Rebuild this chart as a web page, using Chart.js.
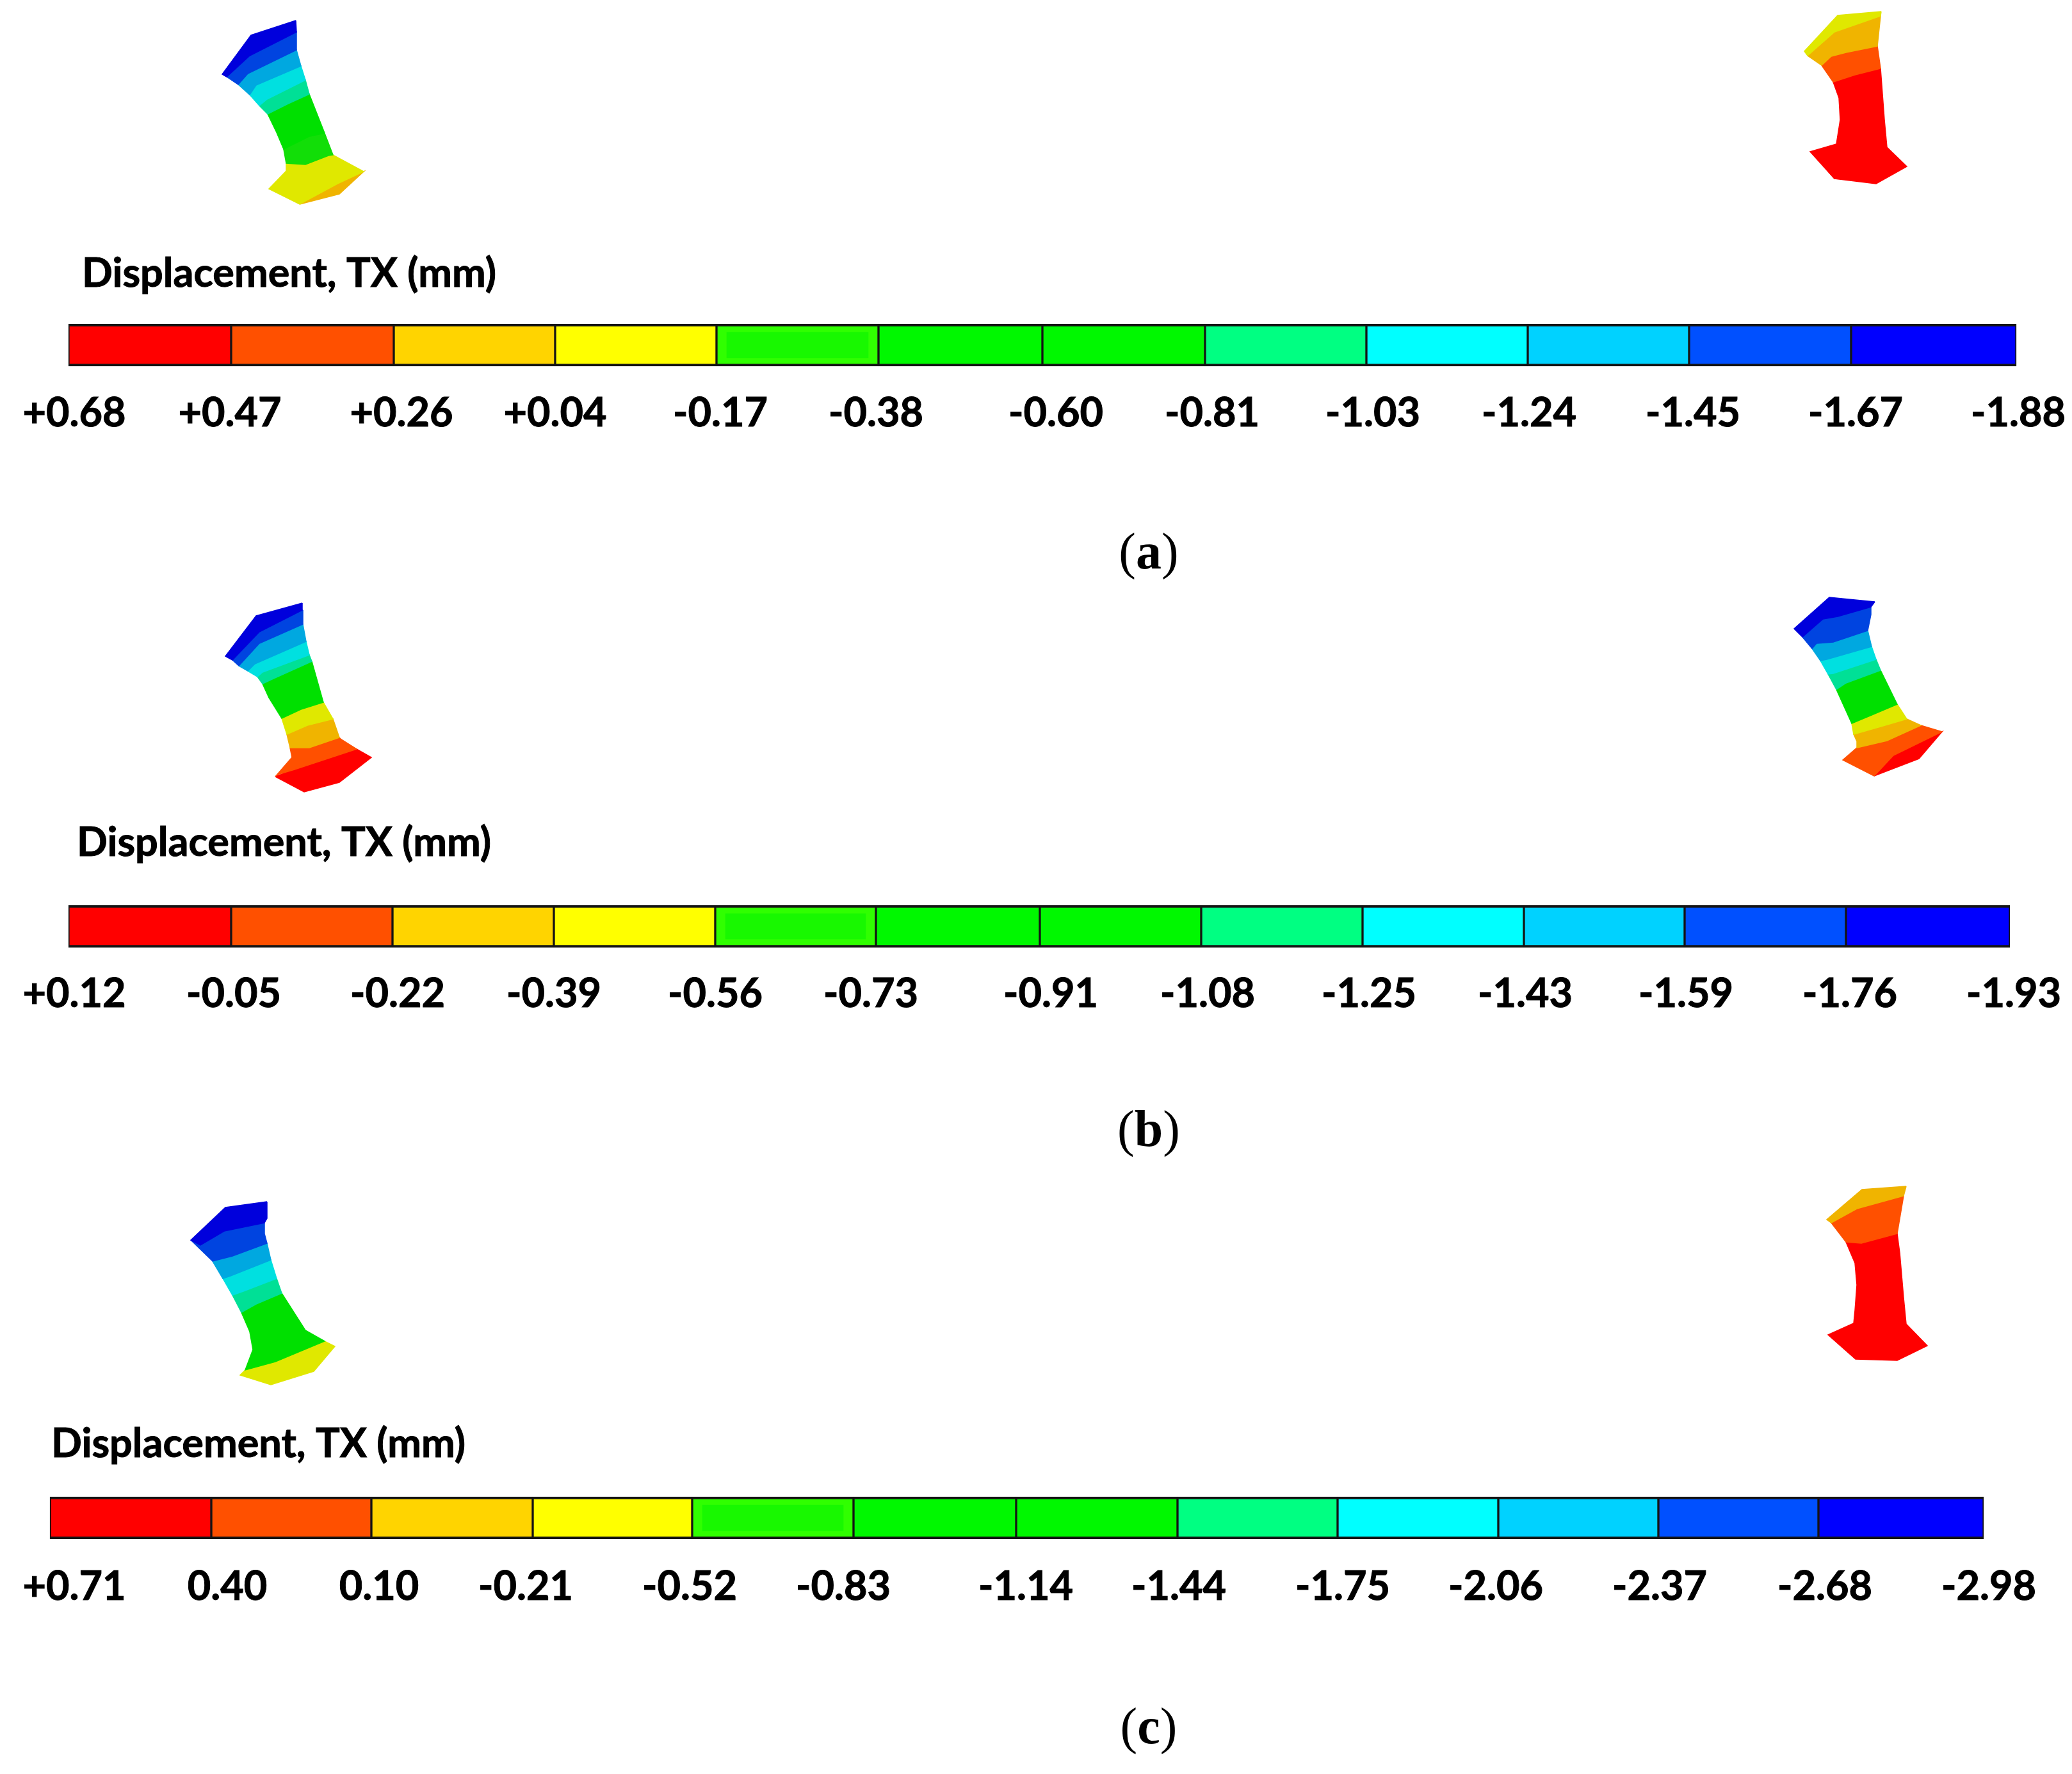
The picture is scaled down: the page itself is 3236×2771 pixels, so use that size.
<!DOCTYPE html>
<html>
<head>
<meta charset="utf-8">
<title>Displacement TX</title>
<script src="https://cdn.jsdelivr.net/npm/chart.js@4"></script>
<style>
  html, body { margin: 0; padding: 0; background: #fff; }
  canvas { display: block; filter: blur(0.7px); }
</style>
</head>
<body>
<canvas id="sheet" width="3236" height="2771"></canvas>
<script>
// Contour colours, same order as the legend cells
const legendColors = ["#FF0000", "#FF5000", "#FFD400", "#FFFF00", "#30FF00", "#00F800", "#00F800", "#00FF82", "#00FFFF", "#00D2FF", "#0050FF", "#0000FF"];
const cellFiveInner = "#18F800";

// Cell boundaries of each legend strip
const edgesA = [107, 361, 615, 867, 1119, 1372, 1628, 1882, 2134, 2386, 2638, 2891, 3149];
const edgesB = [107, 361, 613, 865, 1117, 1368, 1624, 1876, 2128, 2380, 2631, 2883, 3139];
const edgesC = [78, 330, 580, 832, 1081, 1333, 1587, 1839, 2089, 2340, 2590, 2840, 3098];
const rowCenters = [539, 1447, 2371];

// Tick labels and where their centres sit
const ticksA = ["+0.68", "+0.47", "+0.26", "+0.04", "-0.17", "-0.38", "-0.60", "-0.81", "-1.03", "-1.24", "-1.45", "-1.67", "-1.88"];
const ticksB = ["+0.12", "-0.05", "-0.22", "-0.39", "-0.56", "-0.73", "-0.91", "-1.08", "-1.25", "-1.43", "-1.59", "-1.76", "-1.93"];
const ticksC = ["+0.71", "0.40", "0.10", "-0.21", "-0.52", "-0.83", "-1.14", "-1.44", "-1.75", "-2.06", "-2.37", "-2.68", "-2.98"];
const tickPosA = [116, 359, 627, 867, 1125, 1368, 1649, 1893, 2144, 2388, 2644, 2898, 3152];
const tickPosB = [116, 365, 621, 865, 1117, 1360, 1641, 1886, 2138, 2382, 2633, 2889, 3145];
const tickPosC = [116, 355, 592, 821, 1077, 1317, 1602, 1841, 2097, 2336, 2592, 2850, 3106];
const tickBaselines = [666, 1573, 2499];

const titleText = "Displacement, TX (mm)";
const titleLeft = [128, 120, 80];
const titleBaselines = [448, 1337, 2276];
const captions = ["a", "b", "c"];
const captionBaselines = [888, 1790, 2723];

// Specimen colours
const DKBLUE = "#0000DC", BLUE = "#0044E0", LTBLUE = "#00A8E0", CYAN = "#00E0E0", TEAL = "#00E096",
      GREEN = "#00E000", LTGREEN = "#12DE08", YELLOW = "#E0E800", ORANGE = "#F0B400", ORANGERED = "#FF5000", RED = "#FF0000";

// Contour bands of the six specimens: [colour, x,y, x,y, ...]
const bandsA1 = [
  [DKBLUE, 462,32, 392,55, 347,116, 354,120, 390,87, 463,50],
  [BLUE, 354,120, 390,87, 463,50, 463,78, 387,115, 372,132],
  [LTBLUE, 372,132, 387,115, 463,78, 470,103, 400,133, 390,148],
  [CYAN, 390,148, 400,133, 470,103, 477,125, 417,155, 405,165],
  [TEAL, 405,165, 417,155, 477,125, 483,147, 450,162, 418,178],
  [GREEN, 418,178, 450,162, 483,147, 507,208, 483,213, 443,233, 432,207],
  [LTGREEN, 443,233, 483,213, 507,208, 520,242, 513,243, 477,257, 447,255],
  [YELLOW, 447,255, 477,257, 513,243, 520,242, 568,268, 527,287, 468,319, 420,295, 447,267],
  [ORANGE, 468,319, 527,287, 568,268, 530,303]
];
const bandsA2 = [
  [YELLOW, 2938,18, 2870,24, 2818,80, 2823,87, 2865,50, 2937,25],
  [ORANGE, 2823,87, 2865,50, 2937,25, 2932,72, 2883,82, 2860,88, 2845,102],
  [ORANGERED, 2845,102, 2860,88, 2883,82, 2932,72, 2937,107, 2897,117, 2863,128],
  [RED, 2863,128, 2897,117, 2937,107, 2943,187, 2947,230, 2978,260, 2930,287, 2865,279, 2827,237, 2868,225, 2874,187, 2872,153],
  [ORANGERED, 2838,248, 2865,279, 2883,280]
];
const bandsB1 = [
  [DKBLUE, 472,942, 400,962, 352,1025, 363,1031, 405,987, 472,953],
  [BLUE, 363,1031, 405,987, 472,953, 473,963, 473,975, 405,1005, 373,1040],
  [LTBLUE, 373,1040, 405,1005, 473,975, 478,1002, 398,1037, 387,1048],
  [CYAN, 387,1048, 398,1037, 478,1002, 483,1023, 410,1050, 402,1057],
  [TEAL, 402,1057, 410,1050, 483,1023, 487,1033, 427,1060, 410,1068],
  [GREEN, 410,1068, 427,1060, 487,1033, 505,1097, 470,1108, 440,1122, 420,1090],
  [LTGREEN, 438,1108, 463,1093, 495,1080, 497,1087, 465,1103, 441,1116],
  [YELLOW, 440,1122, 470,1108, 505,1097, 520,1123, 480,1133, 448,1147],
  [ORANGE, 448,1147, 480,1133, 520,1123, 530,1152, 483,1168, 453,1168],
  [ORANGERED, 453,1168, 483,1168, 530,1152, 533,1155, 557,1170, 460,1202, 433,1210, 430,1213, 456,1183],
  [RED, 430,1213, 460,1202, 557,1170, 580,1183, 530,1222, 475,1237]
];
const bandsB2 = [
  [DKBLUE, 2928,940, 2897,937, 2857,933, 2802,982, 2815,995, 2847,967, 2870,963, 2922,948],
  [BLUE, 2815,995, 2847,967, 2870,963, 2922,948, 2922,960, 2917,985, 2863,1003, 2837,1005, 2830,1013],
  [LTBLUE, 2830,1013, 2837,1005, 2863,1003, 2917,985, 2923,1010, 2853,1030, 2843,1032],
  [CYAN, 2843,1032, 2853,1030, 2923,1010, 2930,1030, 2863,1052, 2855,1053],
  [TEAL, 2855,1053, 2863,1052, 2930,1030, 2937,1047, 2883,1067, 2868,1077],
  [GREEN, 2868,1077, 2883,1067, 2937,1047, 2963,1100, 2923,1117, 2892,1130],
  [LTGREEN, 2890,1112, 2918,1098, 2952,1088, 2955,1094, 2920,1106, 2892,1120],
  [YELLOW, 2892,1130, 2923,1117, 2963,1100, 2978,1123, 2937,1135, 2895,1147],
  [ORANGE, 2895,1147, 2937,1135, 2978,1123, 3000,1133, 2947,1157, 2900,1168, 2900,1158],
  [ORANGERED, 2900,1168, 2947,1157, 3000,1133, 3033,1143, 2957,1180, 2927,1212, 2878,1187],
  [RED, 2927,1212, 2957,1180, 3033,1143, 2997,1185]
];
const bandsC1 = [
  [DKBLUE, 417,1877, 352,1886, 298,1937, 313,1945, 350,1923, 413,1910, 417,1903],
  [BLUE, 298,1937, 313,1945, 350,1923, 413,1910, 413,1927, 417,1942, 363,1962, 332,1970, 330,1968],
  [LTBLUE, 332,1970, 363,1962, 417,1942, 423,1968, 360,1993, 348,1997],
  [CYAN, 348,1997, 360,1993, 423,1968, 432,1997, 380,2017, 363,2023],
  [TEAL, 363,2023, 380,2017, 432,1997, 440,2020, 400,2037, 377,2050],
  [GREEN, 377,2050, 400,2037, 440,2020, 477,2078, 507,2095, 430,2127, 383,2140, 395,2108, 390,2080],
  [LTGREEN, 400,2105, 433,2090, 470,2082, 490,2090, 440,2108, 405,2118],
  [YELLOW, 383,2140, 430,2127, 507,2095, 523,2103, 490,2142, 423,2163, 375,2148]
];
const bandsC2 = [
  [ORANGE, 2977,1853, 2908,1858, 2853,1905, 2860,1910, 2900,1888, 2973,1868],
  [ORANGERED, 2860,1910, 2900,1888, 2973,1868, 2963,1927, 2907,1942, 2883,1940],
  [RED, 2883,1940, 2907,1942, 2963,1927, 2967,1957, 2973,2027, 2977,2068, 3010,2102, 2963,2125, 2898,2123, 2855,2085, 2895,2067, 2897,2047, 2900,2007, 2897,1973]
];
const specimens = [bandsA1, bandsA2, bandsB1, bandsB2, bandsC1, bandsC2];
const legendEdges = [edgesA, edgesB, edgesC];

// Fifth cell has a darker core inside a lighter rim. First datasets draw on top
const innerDatasets = [{
  type: "bar",
  indexAxis: "y",
  data: legendEdges.map((edges, row) => ({ x: [edges[4] + 16, edges[5] - 16], y: rowCenters[row] })),
  backgroundColor: cellFiveInner,
  borderWidth: 0,
  barThickness: 40,
  grouped: false
}];

// One floating bar per legend cell
const cellDatasets = legendEdges.map((edges, row) => ({
  type: "bar",
  indexAxis: "y",
  data: edges.slice(1).map((end, i) => ({ x: [edges[i], end], y: rowCenters[row] })),
  backgroundColor: legendColors,
  borderColor: "#141414",
  borderWidth: { top: 4, bottom: 4, left: 2, right: 2 },
  borderSkipped: false,
  barThickness: 66,
  grouped: false
}));

// Each contour band is a closed line with its shape filled
const bandDatasets = specimens.flat().map(band => {
  const pts = [];
  for (let i = 1; i < band.length; i += 2) pts.push({ x: band[i], y: band[i + 1] });
  pts.push(pts[0]);
  return {
    type: "line",
    data: pts,
    backgroundColor: band[0],
    borderColor: band[0],
    borderWidth: 1.5,
    fill: "shape",
    pointRadius: 0,
    tension: 0
  };
});

const textPlugin = {
  id: "sheetText",
  afterDraw(chart) {
    const { ctx, scales: { x, y } } = chart;
    ctx.save();
    ctx.fillStyle = "#000";
    ctx.strokeStyle = "#000";
    ctx.lineWidth = 1;
    ctx.textBaseline = "alphabetic";
    const heavy = (t, px, py) => { ctx.fillText(t, px, py); ctx.strokeText(t, px, py); };

    // Strip titles
    ctx.font = "bold 63px Lato";
    ctx.textAlign = "left";
    titleBaselines.forEach((row, i) => heavy(titleText, x.getPixelForValue(titleLeft[i]), y.getPixelForValue(row)));

    // Tick labels
    ctx.textAlign = "center";
    [ticksA, ticksB, ticksC].forEach((labels, r) => {
      const pos = [tickPosA, tickPosB, tickPosC][r];
      labels.forEach((t, i) => heavy(t, x.getPixelForValue(pos[i]), y.getPixelForValue(tickBaselines[r])));
    });

    // Panel letters: plain brackets, bold letter
    ctx.textAlign = "left";
    captions.forEach((c, i) => {
      ctx.font = "80px 'Liberation Serif'";
      const open = ctx.measureText("(").width;
      ctx.font = "bold 80px 'Liberation Serif'";
      const mid = ctx.measureText(c).width;
      const left = x.getPixelForValue(1794) - (open * 2 + mid) / 2;
      const base = y.getPixelForValue(captionBaselines[i]);
      ctx.font = "80px 'Liberation Serif'";
      ctx.fillText("(", left, base);
      ctx.fillText(")", left + open + mid, base);
      ctx.font = "bold 80px 'Liberation Serif'";
      ctx.fillText(c, left + open, base);
    });
    ctx.restore();
  }
};

new Chart(document.getElementById("sheet").getContext("2d"), {
  type: "scatter",
  data: { datasets: [...innerDatasets, ...cellDatasets, ...bandDatasets] },
  options: {
    responsive: false,
    animation: false,
    layout: { padding: 0 },
    plugins: { legend: { display: false }, tooltip: { enabled: false } },
    scales: {
      x: { type: "linear", min: 0, max: 3236, display: false, offset: false },
      y: { type: "linear", min: 0, max: 2771, reverse: true, display: false, offset: false }
    }
  },
  plugins: [textPlugin]
});
</script>
</body>
</html>
